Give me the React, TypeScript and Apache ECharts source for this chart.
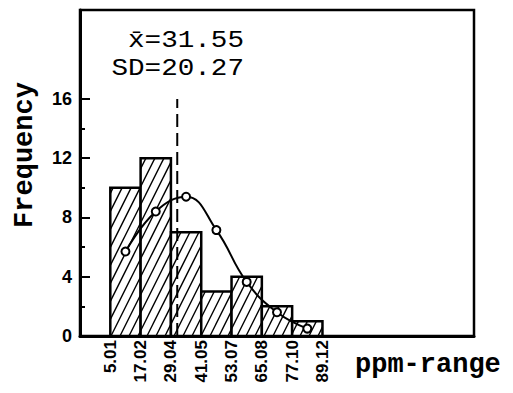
import React, { useEffect, useRef } from "react";
import * as echarts from "echarts";

const edgeLabels = ["5.01", "17.02", "29.04", "41.05", "53.07", "65.08", "77.10", "89.12"];
const frequencies = [10, 12, 7, 3, 4, 2, 1];
const curveValues = [5.7, 8.4, 9.4, 7.15, 3.65, 1.6, 0.5];
const yMajorTicks = [0, 4, 8, 12, 16];
const yMinorTicks = [2, 6, 10, 14];
const meanValue = 31.55;
const sdValue = 20.27;
const binStart = 5.01;
const binWidth = 12.016;
const meanLineTop = 16;

export default function App() {
  const ref = useRef<HTMLDivElement>(null);
  useEffect(() => {
    if (!ref.current) return;
    const chart = echarts.init(ref.current, null, { renderer: "svg" });
    const meanIdx = (meanValue - binStart) / binWidth;
    const labelFont = "Liberation Sans";
    const statText = (text: string, y: number) => ({
      type: "text",
      x: 244,
      y,
      scaleX: 1.15,
      style: {
        text,
        x: 0,
        y: 0,
        align: "right",
        textAlign: "right",
        verticalAlign: "middle",
        textVerticalAlign: "middle",
        fontFamily: "Liberation Mono",
        fontSize: 24,
        fill: "#000",
      },
    });
    const option: any = {
      animation: false,
      backgroundColor: "#fff",
      grid: {
        left: 80,
        right: 39,
        top: 10,
        bottom: 57,
        show: true,
        borderColor: "#000",
        borderWidth: 2.5,
      },
      xAxis: {
        type: "value",
        min: -1,
        max: 12,
        splitLine: { show: false },
        axisLine: { show: true, onZero: false, lineStyle: { color: "#000", width: 3 } },
        axisTick: { show: false },
        axisLabel: {
          customValues: edgeLabels.map((_, i) => i),
          formatter: (v: number) => edgeLabels[Math.round(v)] ?? "",
          rotate: 90,
          margin: 4,
          color: "#000",
          fontFamily: labelFont,
          fontWeight: "bold",
          fontSize: 17,
        },
      },
      yAxis: [
        {
          type: "value",
          min: 0,
          max: 22,
          splitLine: { show: false },
          axisLine: { show: true, onZero: false, lineStyle: { color: "#000", width: 3 } },
          axisTick: {
            show: true,
            inside: true,
            length: 10,
            customValues: yMajorTicks,
            lineStyle: { color: "#000", width: 2 },
          },
          axisLabel: {
            customValues: yMajorTicks,
            margin: 8,
            color: "#000",
            fontFamily: labelFont,
            fontWeight: "bold",
            fontSize: 18,
          },
        },
        {
          type: "value",
          min: 0,
          max: 22,
          position: "left",
          splitLine: { show: false },
          axisLine: { show: false, onZero: false },
          axisTick: {
            show: true,
            inside: true,
            length: 5,
            customValues: yMinorTicks,
            lineStyle: { color: "#000", width: 2 },
          },
          axisLabel: { show: false },
        },
      ],
      series: [
        {
          type: "custom",
          data: frequencies.map((f, i) => [i, f]),
          encode: { x: 0, y: 1 },
          z: 2,
          renderItem: (params: any, api: any) => {
            const i = api.value(0);
            const h = api.value(1);
            const tl = api.coord([i, h]);
            const br = api.coord([i + 1, 0]);
            const x1 = tl[0], y1 = tl[1], x2 = br[0], y2 = br[1];
            const s = 2.0;
            const sp = 9;
            const children: any[] = [
              { type: "rect", shape: { x: x1, y: y1, width: x2 - x1, height: y2 - y1 }, style: { fill: "#fff" } },
            ];
            const uMin = x1 + y1 / s;
            const uMax = x2 + y2 / s;
            for (let k = Math.ceil(uMin / sp); k * sp <= uMax; k++) {
              const u = k * sp;
              const lo = Math.max(y1, s * (u - x2));
              const hi = Math.min(y2, s * (u - x1));
              if (hi - lo > 0.5) {
                children.push({
                  type: "line",
                  shape: { x1: u - lo / s, y1: lo, x2: u - hi / s, y2: hi },
                  style: { stroke: "#000", lineWidth: 1.4 },
                });
              }
            }
            children.push({
              type: "rect",
              shape: { x: x1, y: y1, width: x2 - x1, height: y2 - y1 },
              style: { fill: "none", stroke: "#000", lineWidth: 2.5 },
            });
            return { type: "group", children };
          },
        },
        {
          type: "line",
          data: [
            [meanIdx, 0],
            [meanIdx, meanLineTop],
          ],
          symbol: "none",
          z: 3,
          lineStyle: { color: "#000", width: 2, type: [13, 6] },
        },
        {
          type: "line",
          data: curveValues.map((v, i) => [i + 0.5, v]),
          smooth: 0.45,
          symbol: "emptyCircle",
          symbolSize: 8,
          z: 4,
          lineStyle: { color: "#000", width: 2 },
          itemStyle: { color: "#000", borderWidth: 2 },
        },
      ],
      graphic: [
        statText(`x\u0304=${meanValue.toFixed(2)}`, 41),
        statText(`SD=${sdValue.toFixed(2)}`, 69),
        {
          type: "text",
          x: 25,
          y: 155,
          rotation: Math.PI / 2,
          style: {
            text: "Frequency",
            x: 0,
            y: 0,
            align: "center",
            textAlign: "center",
            verticalAlign: "middle",
            textVerticalAlign: "middle",
            fontFamily: "Liberation Mono",
            fontWeight: "bold",
            fontSize: 27,
            fill: "#000",
          },
        },
        {
          type: "text",
          style: {
            text: "ppm-range",
            x: 355,
            y: 365,
            align: "left",
            textAlign: "left",
            verticalAlign: "middle",
            textVerticalAlign: "middle",
            fontFamily: "Liberation Mono",
            fontWeight: "bold",
            fontSize: 27,
            fill: "#000",
          },
        },
      ],
    };
    chart.setOption(option);
    return () => chart.dispose();
  }, []);
  return (
    <div
      ref={ref}
      style={{ position: "fixed", left: 0, top: 0, width: 513, height: 393, background: "#fff" }}
    />
  );
}
